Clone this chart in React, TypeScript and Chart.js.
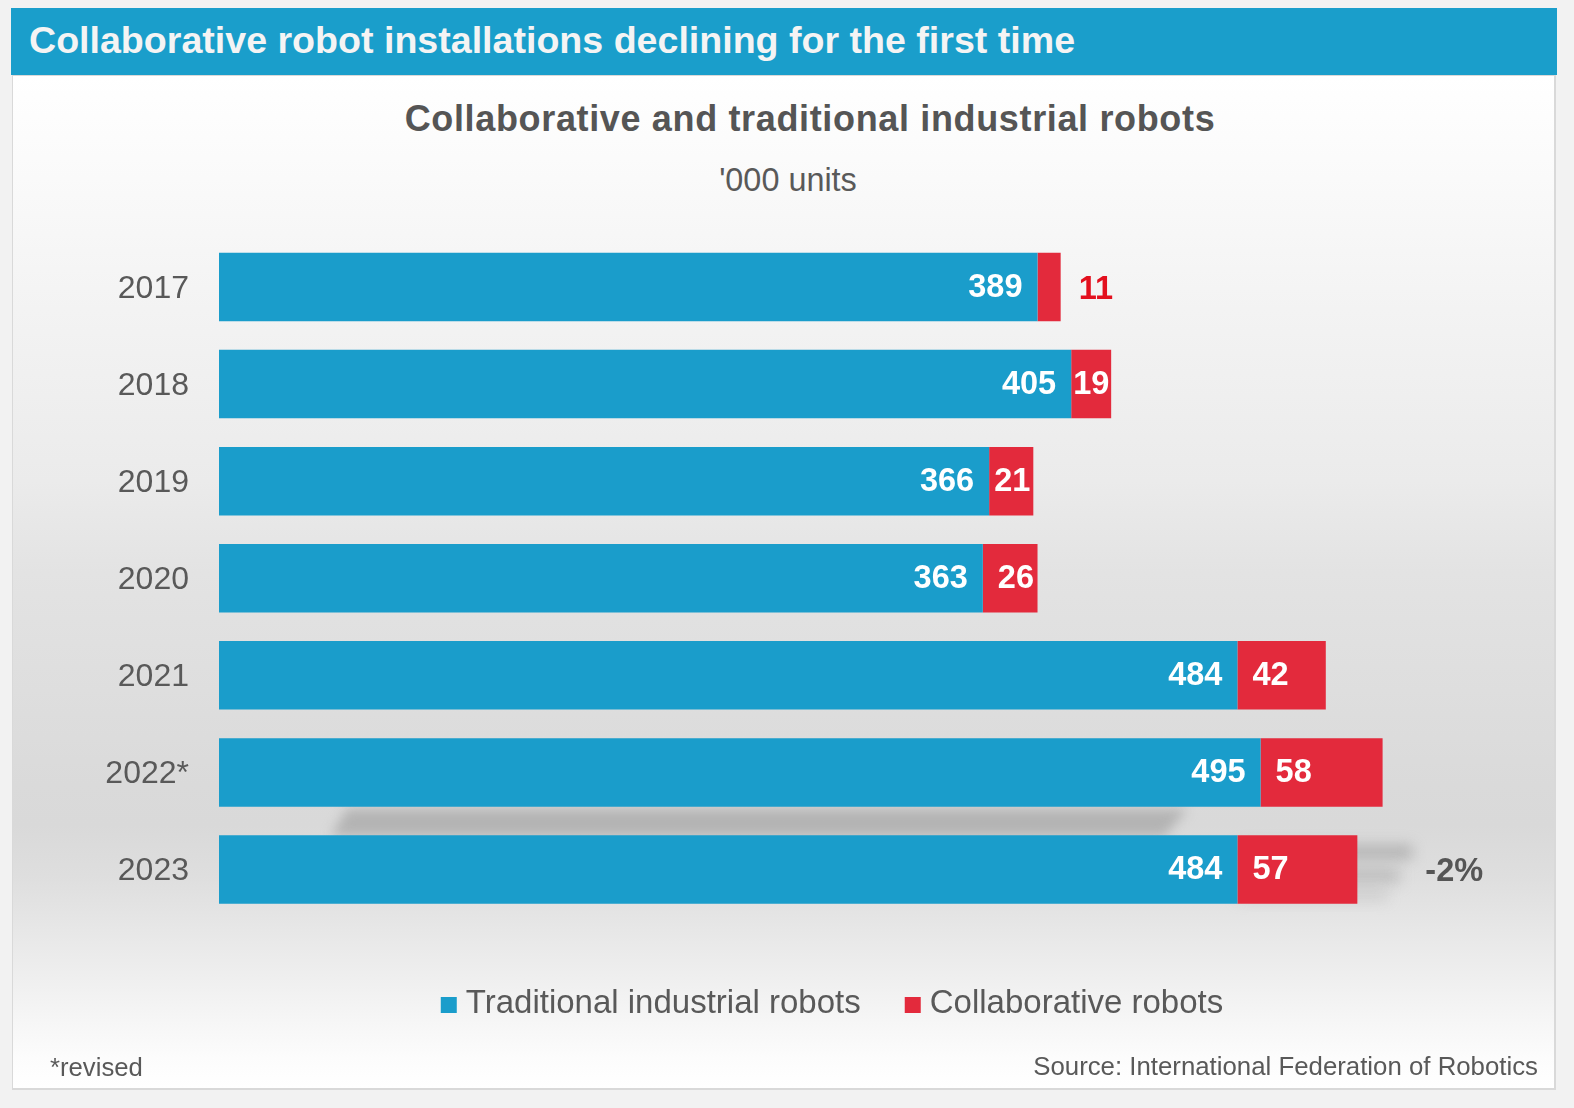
import React, { useEffect, useRef } from "react";
import { Chart, registerables } from "chart.js";

Chart.register(...registerables);

const years = ["2017", "2018", "2019", "2020", "2021", "2022*", "2023"];
const traditional = [389, 405, 366, 363, 484, 495, 484];
const collaborative = [11, 19, 21, 26, 42, 58, 57];
const seriesNames = ["Traditional industrial robots", "Collaborative robots"];
const seriesColors = ["#1a9dcb", "#e32a3c"];
const lastChange = "-2%";
const headerText = "Collaborative robot installations declining for the first time";
const titleText = "Collaborative and traditional industrial robots";
const subtitleText = "'000 units";
const noteText = "*revised";
const sourceText = "Source: International Federation of Robotics";

const FONT = "'Liberation Sans', Arial, Helvetica, sans-serif";
const CANVAS_LEFT = 14;
const CANVAS_TOP = 78;
const CANVAS_W = 1539;
const CANVAS_H = 1010;

const shadowPlugin = {
  id: "barShadows",
  beforeDatasetsDraw(chart: any) {
    const ctx = chart.ctx;
    const top = chart.getDatasetMeta(1).data;
    const base = chart.getDatasetMeta(0).data;
    const n = top.length;
    if (n < 2) return;
    ctx.save();
    const b = top[n - 2];
    const next = top[n - 1];
    const x0 = base[n - 2].base;
    const yTop = b.y + b.height / 2 + 2;
    const yBot = next.y - next.height / 2 + 1;
    ctx.filter = "blur(6px)";
    ctx.fillStyle = "rgba(160,160,160,0.65)";
    ctx.beginPath();
    ctx.moveTo(x0 + 128, yTop);
    ctx.lineTo(b.x - 195, yTop);
    ctx.lineTo(b.x - 218, yBot);
    ctx.lineTo(x0 + 112, yBot);
    ctx.closePath();
    ctx.fill();
    const l = top[n - 1];
    ctx.filter = "blur(7px)";
    ctx.fillStyle = "rgba(150,150,150,0.6)";
    ctx.fillRect(l.x - 120, l.y - l.height / 2 + 10, 175, 14);
    ctx.fillStyle = "rgba(160,160,160,0.5)";
    ctx.fillRect(l.x - 120, l.y - 2, 162, 16);
    ctx.fillStyle = "rgba(170,170,170,0.4)";
    ctx.fillRect(l.x - 120, l.y + l.height / 2 - 14, 150, 10);
    ctx.restore();
  },
};

const labelPlugin = {
  id: "barLabels",
  afterDatasetsDraw(chart: any) {
    const ctx = chart.ctx;
    ctx.save();
    ctx.font = `bold 32.5px ${FONT}`;
    ctx.textBaseline = "middle";
    const m0 = chart.getDatasetMeta(0).data;
    const m1 = chart.getDatasetMeta(1).data;
    m0.forEach((bar: any, i: number) => {
      ctx.fillStyle = "#ffffff";
      ctx.textAlign = "right";
      ctx.fillText(String(traditional[i]), bar.x - 15, bar.y + 1);
    });
    m1.forEach((bar: any, i: number) => {
      const txt = String(collaborative[i]);
      const w = ctx.measureText(txt).width;
      const seg = bar.x - bar.base;
      ctx.textAlign = "left";
      if (seg < w) {
        ctx.fillStyle = "#e3101e";
        ctx.fillText(txt, bar.x + 18, bar.y + 3);
      } else {
        const x = Math.max(bar.base + 2, Math.min(bar.base + 15, bar.x - w - 3));
        ctx.fillStyle = "#ffffff";
        ctx.fillText(txt, x, bar.y + 1);
      }
    });
    const last = m1[m1.length - 1];
    ctx.fillStyle = "#555555";
    ctx.textAlign = "left";
    ctx.fillText(lastChange, last.x + 68, last.y + 3);
    ctx.restore();
  },
};

const legendPlugin = {
  id: "customLegend",
  afterDraw(chart: any) {
    const ctx = chart.ctx;
    const opts = chart.options.plugins.customLegend;
    ctx.save();
    ctx.font = `33px ${FONT}`;
    const box = 16;
    const gap = 9;
    const itemGap = 44;
    const items = chart.data.datasets.map((d: any) => ({
      label: d.label,
      color: d.backgroundColor,
      w: ctx.measureText(d.label).width,
    }));
    const total =
      items.reduce((s: number, it: any) => s + box + gap + it.w, 0) +
      itemGap * (items.length - 1);
    let x = opts.centerX - total / 2;
    const baseY = opts.baselineY;
    ctx.textBaseline = "alphabetic";
    ctx.textAlign = "left";
    items.forEach((it: any) => {
      ctx.fillStyle = it.color;
      ctx.fillRect(x, baseY - box, box, box);
      x += box + gap;
      ctx.fillStyle = "#595959";
      ctx.fillText(it.label, x, baseY);
      x += it.w + itemGap;
    });
    ctx.restore();
  },
};

export default function App() {
  const ref = useRef<HTMLCanvasElement | null>(null);

  useEffect(() => {
    if (!ref.current) return;
    Chart.defaults.font.family = FONT;
    const chart = new Chart(ref.current, {
      type: "bar",
      data: {
        labels: years,
        datasets: [
          {
            label: seriesNames[0],
            data: traditional,
            backgroundColor: seriesColors[0],
            borderWidth: 0,
            barPercentage: 0.706,
            categoryPercentage: 1,
          },
          {
            label: seriesNames[1],
            data: collaborative,
            backgroundColor: seriesColors[1],
            borderWidth: 0,
            barPercentage: 0.706,
            categoryPercentage: 1,
          },
        ],
      },
      options: {
        indexAxis: "y",
        responsive: false,
        animation: false,
        devicePixelRatio: 1,
        layout: { padding: { left: 0, right: 71.5, top: 160.5, bottom: 170 } },
        scales: {
          x: { stacked: true, min: 0, max: 600, display: false },
          y: {
            stacked: true,
            grid: { display: false, drawTicks: false },
            border: { display: false },
            ticks: {
              color: "#595959",
              font: { size: 32, family: FONT },
              padding: 30,
              labelOffset: 2,
            },
            afterFit(scale: any) {
              scale.width = 205;
            },
          },
        },
        plugins: {
          legend: { display: false },
          title: { display: false },
          tooltip: { enabled: false },
          customLegend: { centerX: 832 - CANVAS_LEFT, baselineY: 1013 - CANVAS_TOP },
        } as any,
      },
      plugins: [shadowPlugin, labelPlugin, legendPlugin],
    } as any);
    return () => chart.destroy();
  }, []);

  const abs = (s: React.CSSProperties): React.CSSProperties => ({
    position: "absolute",
    whiteSpace: "nowrap",
    fontFamily: FONT,
    ...s,
  });

  return (
    <div
      style={{
        position: "absolute",
        left: 0,
        top: 0,
        width: 1574,
        height: 1108,
        background: "#f2f2f2",
        overflow: "hidden",
      }}
    >
      <div
        style={abs({
          left: 11,
          top: 8,
          width: 1546,
          height: 67,
          background: "#1a9ecb",
        })}
      />
      <div
        style={abs({
          left: 29,
          top: 22,
          fontSize: 37.6,
          lineHeight: "37px",
          fontWeight: "bold",
          color: "#f4f4f4",
        })}
      >
        {headerText}
      </div>
      <div
        style={abs({
          left: 12,
          top: 75,
          width: 1541,
          height: 1012,
          border: "2px solid #d9d9d9",
          borderLeftWidth: 1,
          borderTopWidth: 1,
          background:
            "linear-gradient(to bottom, #ffffff 0%, #fafafa 10%, #f4f4f4 21%, #ebebeb 40%, #e3e3e3 49%, #dadada 70%, #d9d9d9 74%, #dedede 79%, #e8e8e8 85%, #f2f2f2 91%, #fcfcfc 97%, #ffffff 100%)",
        })}
      />
      <div
        style={abs({
          left: 810,
          top: 101,
          transform: "translateX(-50%)",
          fontSize: 36,
          lineHeight: "36px",
          letterSpacing: "0.65px",
          fontWeight: "bold",
          color: "#555555",
        })}
      >
        {titleText}
      </div>
      <div
        style={abs({
          left: 788,
          top: 164,
          transform: "translateX(-50%)",
          fontSize: 32.4,
          lineHeight: "32px",
          color: "#595959",
        })}
      >
        {subtitleText}
      </div>
      <canvas
        ref={ref}
        width={CANVAS_W}
        height={CANVAS_H}
        style={{
          position: "absolute",
          left: CANVAS_LEFT,
          top: CANVAS_TOP,
          width: CANVAS_W,
          height: CANVAS_H,
        }}
      />
      <div
        style={abs({
          left: 50,
          top: 1055,
          fontSize: 25.7,
          lineHeight: "25px",
          color: "#595959",
        })}
      >
        {noteText}
      </div>
      <div
        style={abs({
          right: 1574 - 1538,
          top: 1054,
          fontSize: 25.8,
          lineHeight: "25px",
          color: "#595959",
        })}
      >
        {sourceText}
      </div>
    </div>
  );
}
